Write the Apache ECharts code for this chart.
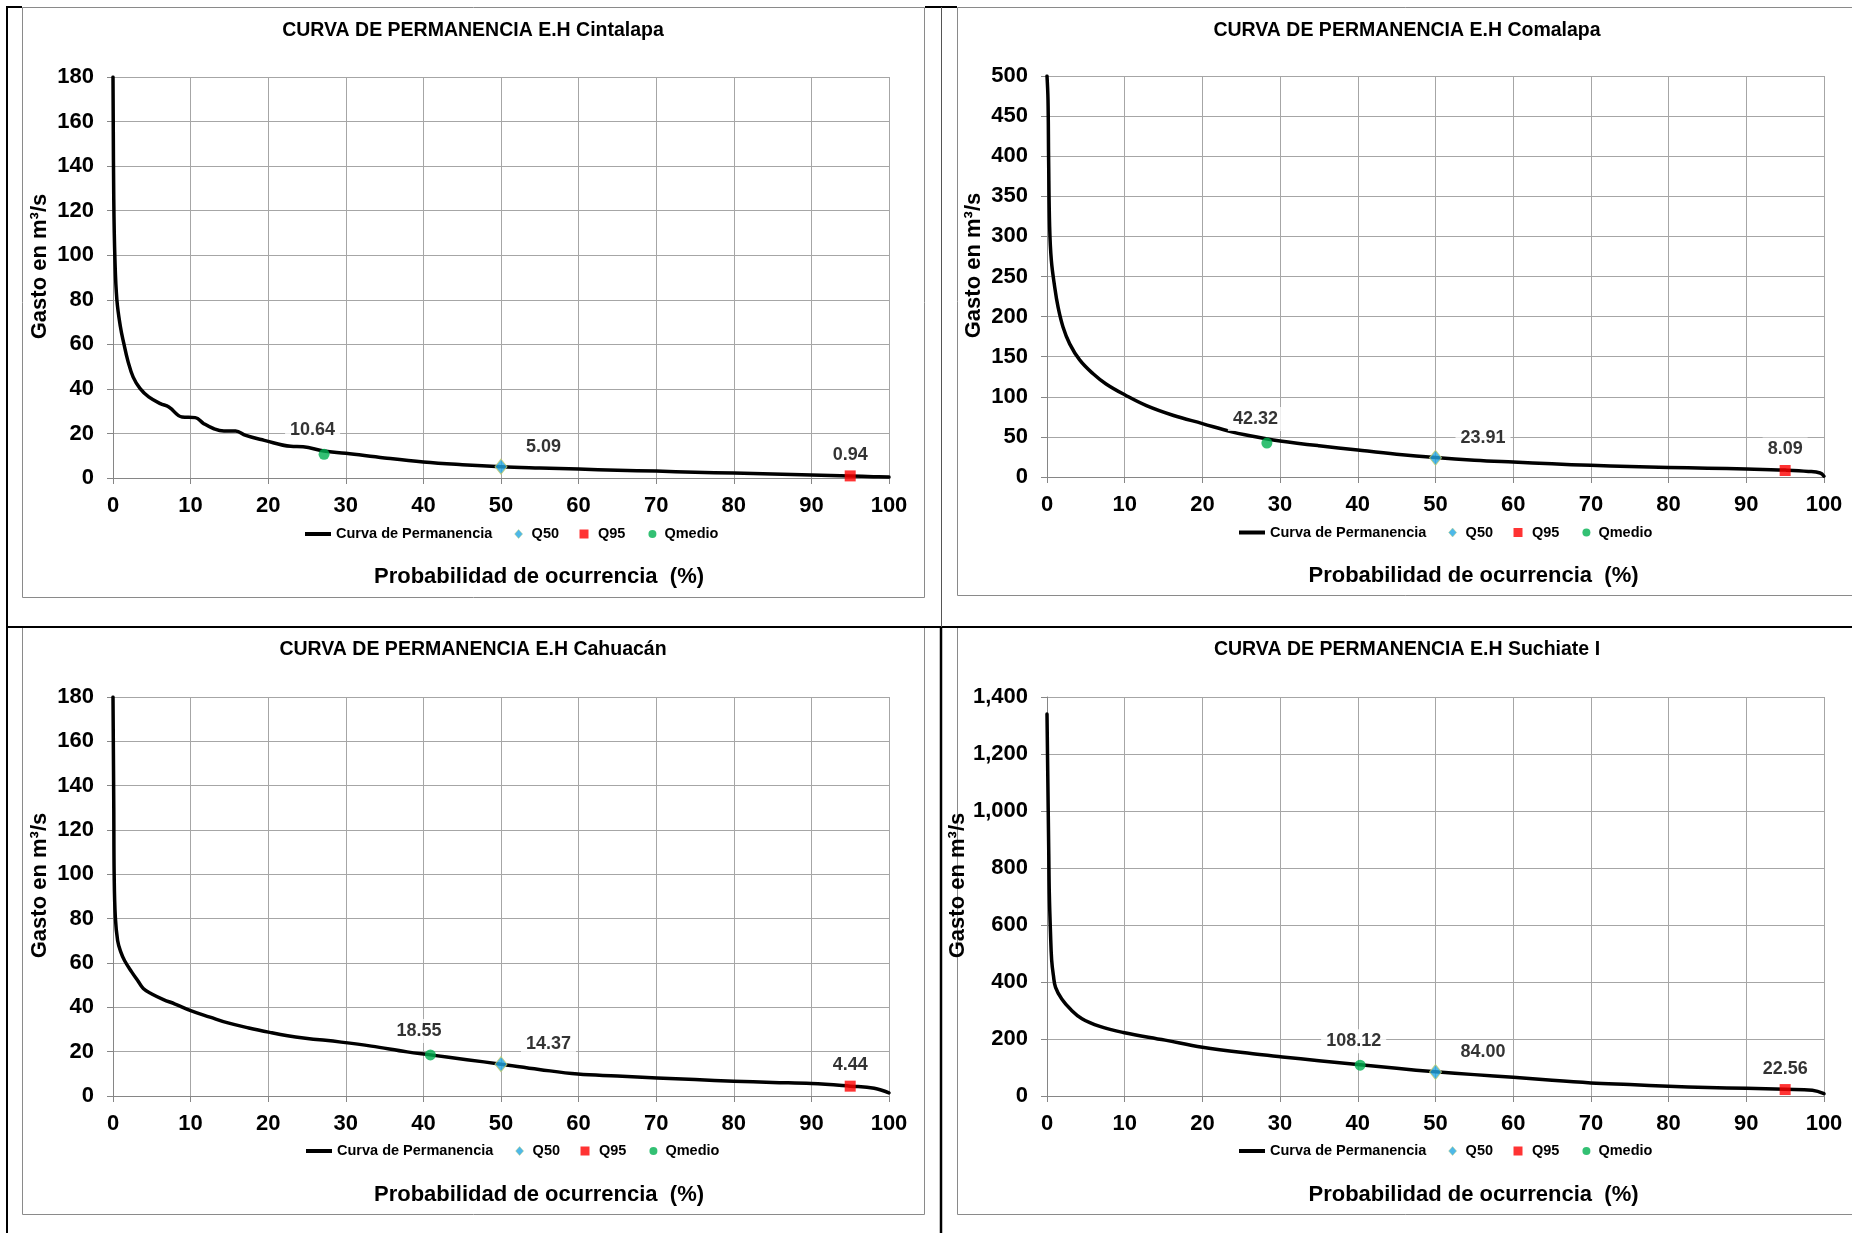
<!DOCTYPE html>
<html>
<head>
<meta charset="utf-8">
<script src="https://cdn.jsdelivr.net/npm/echarts@6/dist/echarts.min.js"></script>
<style>
html,body{margin:0;padding:0;background:#ffffff;}
#main{width:1852px;height:1233px;}
</style>
</head>
<body>
<div id="main"></div>
<script>
// ---------------- DATA ----------------
const stations = ['Cintalapa', 'Comalapa', 'Cahuacán', 'Suchiate I'];

const cintalapaProb  = [0, 0.1, 0.25, 0.5, 0.95, 1.4, 1.9, 2.6, 3.5, 4.6, 6.1, 7.2, 8.9, 10.6, 11.7, 13.0, 14.3, 15.8, 17.1, 19.5, 22.9, 24.5, 27.2, 30, 35, 40, 45, 50, 55, 60, 65, 70, 75, 80, 85, 90, 95, 98, 100];
const cintalapaGasto = [180, 125, 98, 80, 68, 60.3, 52.8, 45.3, 40.1, 36.4, 33.4, 31.9, 27.4, 27.1, 24.4, 22.1, 21.1, 21.1, 19.1, 16.9, 14.2, 14.0, 12.1, 11.1, 9.0, 7.2, 6.0, 5.09, 4.5, 4.0, 3.5, 3.1, 2.6, 2.2, 1.8, 1.3, 0.94, 0.6, 0.4];

const comalapaProb  = [0, 0.13, 0.21, 0.34, 0.56, 0.99, 1.42, 2.06, 2.92, 4.2, 5.9, 7.6, 10.1, 12.8, 16.2, 20, 23.9, 28.2, 30, 35, 40, 45, 50, 55, 60, 65, 70, 75, 80, 85, 90, 95, 98, 99.5, 100];
const comalapaGasto = [500, 470, 395, 312, 270, 237, 212, 187, 166, 146, 129, 116, 102, 89, 77, 66.6, 56, 47.8, 45, 39, 33.6, 28.5, 24.3, 21, 18.6, 16.4, 14.5, 13.2, 12, 11, 10, 8.6, 7, 5, 1];

const cahuacanProb  = [0, 0.1, 0.15, 0.3, 0.6, 1.0, 1.5, 2.4, 3.2, 3.9, 5.0, 6.5, 8.0, 10.1, 12.5, 14.7, 17.5, 20.2, 22.5, 24.8, 29.4, 33.3, 37.9, 40.9, 45.6, 50, 54.9, 59.9, 65, 70.1, 75, 80, 85, 90, 95, 98.1, 100];
const cahuacanGasto = [180, 130, 100, 80.7, 70, 65, 61, 56, 52, 48.5, 46, 43.5, 41.5, 38.4, 35.6, 33.1, 30.7, 28.7, 27.2, 26.1, 24.3, 22.5, 19.9, 18.55, 16.4, 14.37, 12, 9.9, 9.0, 8.1, 7.4, 6.7, 6.1, 5.6, 4.44, 3.5, 1.4];

const suchiateProb  = [0, 0.23, 0.3, 0.45, 0.6, 0.83, 1.1, 1.9, 3.0, 4.5, 6.8, 9.8, 15.2, 20, 26.5, 30.3, 35, 40.3, 45, 50, 55, 60, 65, 70, 75, 80, 85, 90, 95, 98.5, 100];
const suchiateGasto = [1340, 847, 710, 573, 477, 422, 381, 340, 305, 271, 244, 223, 196, 171, 148, 137, 124, 110, 97, 85, 75, 66, 55, 46, 40, 34, 30, 27, 23.5, 20, 8];

const curveProb  = [cintalapaProb, comalapaProb, cahuacanProb, suchiateProb];
const curveGasto = [cintalapaGasto, comalapaGasto, cahuacanGasto, suchiateGasto];

const q50Prob = 50;
const q95Prob = 95;
const q50Values    = [5.09, 23.91, 14.37, 84.00];
const q95Values    = [0.94, 8.09, 4.44, 22.56];
const qmedioValues = [10.64, 42.32, 18.55, 108.12];
const qmedioProb   = [27.2, 28.3, 40.9, 40.3];

const xTicks = [0, 10, 20, 30, 40, 50, 60, 70, 80, 90, 100];
const yMax      = [180, 500, 180, 1400];
const yInterval = [20, 50, 20, 200];

const legendNames = ['Curva de Permanencia', 'Q50', 'Q95', 'Qmedio'];
const titlePrefix = 'CURVA DE PERMANENCIA E.H ';
const xTitle = 'Probabilidad de ocurrencia  (%)';
const yTitle = 'Gasto en m³/s';

// ---------------- LAYOUT / STYLE ----------------
const FONT = "'Liberation Sans', Arial, sans-serif";
const grids = [
  {left: 113,  top: 77,  width: 776, height: 401},
  {left: 1047, top: 76,  width: 777, height: 401},
  {left: 113,  top: 697, width: 776, height: 399},
  {left: 1047, top: 697, width: 777, height: 399}
];
const titlePos  = [[473, 30.5], [1407, 30.5], [473, 649.5], [1407, 649.5]];
const legendPos = [[305, 534], [1239, 532.5], [306, 1151], [1239, 1151]];

// legend icons inside a 26x9 box (corner move-tos fix the box)
const legendIcons = [
  'path://M0,0M26,9M0,2.5L26,2.5L26,6.5L0,6.5Z',
  'path://M0,0M26,9M18,0L22,4.5L18,9L14,4.5Z',
  'path://M0,0M26,9M12.5,0L21.5,0L21.5,9L12.5,9Z',
  'path://M0,0M26,9M15,4.5A4,4,0,1,1,23,4.5A4,4,0,1,1,15,4.5Z'
];

const AXIS_GRAY = '#868686';
const GRID_GRAY = '#a6a6a6';
const Q50_COLOR = '#22a6e2';

const chart = echarts.init(document.getElementById('main'), null, {renderer: 'canvas'});

const xAxes = [], yAxes = [], series = [], legends = [], graphics = [];

function labelCfg(align, offset) {
  return {
    show: true,
    position: 'inside',
    align: align,
    verticalAlign: 'middle',
    offset: offset,
    formatter: p => p.value[1].toFixed(2),
    fontFamily: FONT,
    fontWeight: 'bold',
    fontSize: 18,
    color: '#000',
    backgroundColor: '#ffffff',
    padding: [3, 5]
  };
}

for (let i = 0; i < 4; i++) {
  xAxes.push({
    type: 'value', gridIndex: i,
    min: xTicks[0], max: xTicks[xTicks.length - 1], interval: xTicks[1] - xTicks[0],
    axisLine: {show: true, onZero: false, lineStyle: {color: AXIS_GRAY, width: 1}},
    axisTick: {show: true, inside: false, length: 6, lineStyle: {color: AXIS_GRAY, width: 1}},
    axisLabel: {show: true, fontFamily: FONT, fontWeight: 'bold', fontSize: 22, color: '#000', margin: 17},
    splitLine: {show: true, lineStyle: {color: GRID_GRAY, width: 1}},
    name: xTitle, nameLocation: 'middle', nameGap: 88,
    nameTextStyle: {fontFamily: FONT, fontWeight: 'bold', fontSize: 22, color: '#000', padding: [0, 0, 0, 76]}
  });
  yAxes.push({
    type: 'value', gridIndex: i,
    min: 0, max: yMax[i], interval: yInterval[i],
    axisLine: {show: true, onZero: false, lineStyle: {color: AXIS_GRAY, width: 1}},
    axisTick: {show: true, inside: false, length: 6, lineStyle: {color: AXIS_GRAY, width: 1}},
    axisLabel: {show: true, fontFamily: FONT, fontWeight: 'bold', fontSize: 22, color: '#000', margin: 19,
      formatter: v => v.toLocaleString('en-US')},
    splitLine: {show: true, lineStyle: {color: GRID_GRAY, width: 1}},
    name: yTitle, nameLocation: 'middle', nameRotate: 90, nameGap: 62,
    nameTextStyle: {fontFamily: FONT, fontWeight: 'bold', fontSize: 22, color: '#000', padding: [0, 0, 0, 22]}
  });

  series.push({
    name: legendNames[0], type: 'line', xAxisIndex: i, yAxisIndex: i,
    data: curveProb[i].map((p, k) => [p, curveGasto[i][k]]),
    symbol: 'none', smooth: 0.4,
    lineStyle: {color: '#000', width: 3.5, join: 'round', cap: 'round'},
    itemStyle: {color: '#000'},
    z: 2
  });
  series.push({
    name: legendNames[1], type: 'scatter', xAxisIndex: i, yAxisIndex: i,
    data: [[q50Prob, q50Values[i]]],
    symbol: 'diamond', symbolSize: [12, 15],
    itemStyle: {color: Q50_COLOR, borderColor: '#c3cc6c', borderWidth: 1},
    label: labelCfg('left', [20, -20]),
    z: 4
  });
  series.push({
    name: legendNames[2], type: 'scatter', xAxisIndex: i, yAxisIndex: i,
    data: [[q95Prob, q95Values[i]]],
    symbol: 'rect', symbolSize: 11,
    itemStyle: {color: '#ff0000'},
    label: labelCfg('center', [0, -21]),
    z: 4
  });
  series.push({
    name: legendNames[3], type: 'scatter', xAxisIndex: i, yAxisIndex: i,
    data: [[qmedioProb[i], qmedioValues[i]]],
    symbol: 'circle', symbolSize: 11,
    itemStyle: {color: '#00b050'},
    label: labelCfg('left', [-39, -24]),
    z: 4
  });

  legends.push({
    left: legendPos[i][0], top: legendPos[i][1] - 7.5,
    padding: 0, itemWidth: 26, itemHeight: 9, itemGap: 8,
    orient: 'horizontal', selectedMode: false,
    textStyle: {fontFamily: FONT, fontWeight: 'bold', fontSize: 14.5, color: '#000'},
    data: legendNames.map((n, k) => (k === 1
      ? {name: n, icon: legendIcons[k], itemStyle: {color: Q50_COLOR, borderWidth: 0.5, borderColor: '#c3cc6c'}}
      : {name: n, icon: legendIcons[k]}))
  });

  graphics.push({
    type: 'text', x: titlePos[i][0], y: titlePos[i][1], silent: true,
    style: {text: titlePrefix + stations[i], align: 'center', verticalAlign: 'middle',
      font: "bold 19.5px " + FONT, fill: '#000'}
  });
}

// frames (chart areas and table borders)
const frameRects = [
  [22.5, 7.5, 902, 590], [957.5, 7.5, 910, 588],
  [22.5, 627.5, 902, 587], [957.5, 627.5, 910, 587]
];
frameRects.forEach(r => graphics.push({
  type: 'rect', silent: true, z: -10,
  shape: {x: r[0], y: r[1], width: r[2], height: r[3]},
  style: {fill: null, stroke: '#8a8a8a', lineWidth: 1}
}));
const blackLines = [
  [7, 6, 7, 1233, 2], [6, 7, 22, 7, 2], [925, 7, 957, 7, 2],
  [6, 627, 1852, 627, 2], [941, 627, 941, 1233, 2.5]
];
blackLines.forEach(l => graphics.push({
  type: 'line', silent: true, z: -5,
  shape: {x1: l[0], y1: l[1], x2: l[2], y2: l[3]},
  style: {stroke: '#000', lineWidth: l[4]}
}));
graphics.push({
  type: 'line', silent: true, z: -5,
  shape: {x1: 941.5, y1: 7, x2: 941.5, y2: 627},
  style: {stroke: '#555', lineWidth: 1}
});

chart.setOption({
  animation: false,
  backgroundColor: '#ffffff',
  grid: grids.map(g => Object.assign({containLabel: false, outerBoundsMode: 'none'}, g)),
  xAxis: xAxes,
  yAxis: yAxes,
  legend: legends,
  graphic: graphics,
  series: series
});
</script>
</body>
</html>
